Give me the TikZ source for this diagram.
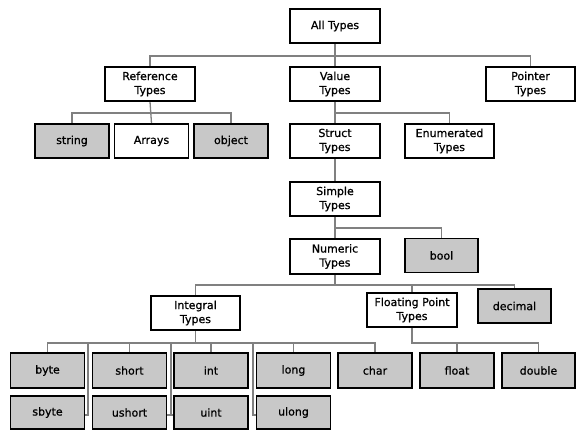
\documentclass[tikz,border=0pt]{standalone}
\usepackage{fontspec}
\setmainfont{DejaVu Sans}[FakeBold=0.8,AutoFakeBold=0.8]
\definecolor{boxgray}{HTML}{C8C8C8}
\definecolor{linegray}{HTML}{808080}
\pgfdeclarelayer{bg}
\pgfsetlayers{bg,main}
\tikzset{
  box/.style={draw=black, line width=1.4pt, fill=white, minimum height=34pt, inner sep=0pt, align=center, font=\fontsize{11}{14}\selectfont\bfseries},
  wide/.style={box, minimum width=90pt},
  small/.style={box, minimum width=74pt},
  leaf/.style={small, fill=boxgray},
  conn/.style={draw=linegray, line width=1.3pt},
}
\begin{document}
\begin{tikzpicture}[x=1pt,y=-1pt]
\useasboundingbox (0,0) rectangle (588,440);
\coordinate (b1) at (0,56);
\coordinate (b2) at (0,113);
\coordinate (b4) at (0,228);
\coordinate (b5) at (0,285);
\coordinate (b6) at (0,343);
\coordinate (v1) at (88,343);
\coordinate (v2) at (171,343);
\coordinate (v3) at (253,343);
\coordinate (t1) at (0,415);

\node[wide] (all) at (335,26) {All Types};
\node[wide] (ref) at (150,84) {Reference\\Types};
\node[wide] (val) at (335,84) {Value\\Types};
\node[wide, minimum width=89pt] (ptr) at (530.5,84) {Pointer\\Types};
\node[leaf] (string) at (72,141) {string};
\node[small] (arrays) at (151.5,141) {Arrays};
\node[leaf] (object) at (231,141) {object};
\node[wide] (struct) at (335,141) {Struct\\Types};
\node[wide, minimum width=89pt] (enum) at (449.5,141) {Enumerated\\Types};
\node[wide] (simple) at (335,199) {Simple\\Types};
\node[wide, minimum height=35pt] (numeric) at (335,256.5) {Numeric\\Types};
\node[leaf, minimum width=73pt] (bool) at (441.5,255.5) {bool};
\node[wide, minimum width=89pt] (integral) at (195.5,313) {Integral\\Types};
\node[wide] (fp) at (412,310) {Floating Point\\Types};
\node[leaf, minimum width=73pt] (decimal) at (514.5,306) {decimal};

\node[leaf, minimum height=35pt] (byte) at (47.5,370.5) {byte};
\node[leaf, minimum height=35pt] (short) at (129.5,370.5) {short};
\node[leaf, minimum height=35pt] (int) at (211,370.5) {int};
\node[leaf, minimum height=35pt] (long) at (293.5,370.5) {long};
\node[leaf, minimum height=35pt] (char) at (375,370.5) {char};
\node[leaf, minimum height=35pt] (float) at (457,370.5) {float};
\node[leaf, minimum height=35pt, minimum width=73pt] (double) at (538.5,370.5) {double};

\node[leaf, minimum height=33pt] (sbyte) at (47.5,412.5) {sbyte};
\node[leaf, minimum height=33pt] (ushort) at (129.5,412.5) {ushort};
\node[leaf, minimum height=33pt] (uint) at (211,412.5) {uint};
\node[leaf, minimum height=33pt] (ulong) at (293.5,412.5) {ulong};

\begin{pgfonlayer}{bg}
\draw[conn] (all.south) -- (all.south |- b1);
\draw[conn] (ref.north) |- (all.south |- b1);
\draw[conn] (val.north) |- (all.south |- b1);
\draw[conn] (ptr.north) |- (all.south |- b1);

\draw[conn] (ref.south) -- (arrays.north);
\draw[conn] (string.north) |- (arrays.north |- b2);
\draw[conn] (object.north) |- (arrays.north |- b2);

\draw[conn] (val.south) -- (struct.north);
\draw[conn] (enum.north) |- (val.south |- b2);

\draw[conn] (struct.south) -- (simple.north);

\draw[conn] (simple.south) -- (numeric.north);
\draw[conn] (bool.north) |- (simple.south |- b4);

\draw[conn] (numeric.south) -- (numeric.south |- b5);
\draw[conn] (integral.north) |- (numeric.south |- b5);
\draw[conn] (fp.north) |- (numeric.south |- b5);
\draw[conn] (decimal.north) |- (numeric.south |- b5);

\draw[conn] (integral.south) -- (integral.south |- b6);
\draw[conn] (byte.north) |- (char.north |- b6) -- (char.north);
\draw[conn] (short.north) -- (short.north |- b6);
\draw[conn] (int.north) -- (int.north |- b6);
\draw[conn] (long.north) -- (long.north |- b6);
\draw[conn] (v1) |- (sbyte.east |- t1);
\draw[conn] (v2) |- (ushort.east |- t1);
\draw[conn] (v2 |- t1) -- (uint.west |- t1);
\draw[conn] (v3) |- (ulong.west |- t1);

\draw[conn] (fp.south) |- (double.north |- b6) -- (double.north);
\draw[conn] (float.north) -- (float.north |- b6);
\end{pgfonlayer}
\end{tikzpicture}
\end{document}
